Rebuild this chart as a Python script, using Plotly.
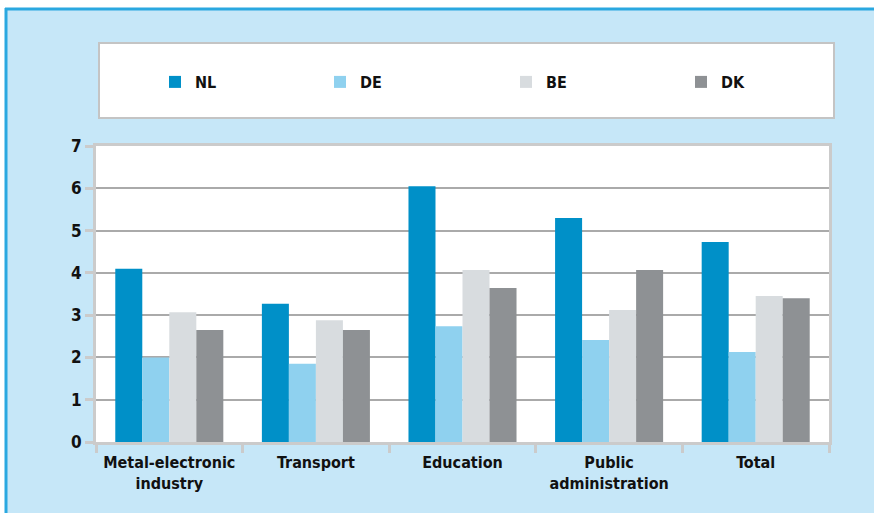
import plotly.graph_objects as go

categories = ["Metal-electronic<br>industry", "Transport", "Education",
              "Public<br>administration", "Total"]
countries = ["NL", "DE", "BE", "DK"]
nl_values = [4.1, 3.27, 6.05, 5.3, 4.73]
de_values = [2.0, 1.85, 2.74, 2.41, 2.13]
be_values = [3.07, 2.88, 4.07, 3.12, 3.45]
dk_values = [2.65, 2.65, 3.64, 4.07, 3.4]
colors = ["#0090c8", "#8fd1ef", "#d8dcdf", "#8e9194"]

FONT = "Liberation Sans Narrow, Arial Narrow, DejaVu Sans Condensed, sans-serif"
BG = "#c6e7f8"

W, H = 874, 513
L, R, T, B = 96, 45, 146, 71
PW, PH = W - L - R, H - T - B


def px_x(x):
    return (x - L) / PW


def px_y(y):
    return (H - B - y) / PH


fig = go.Figure()
series = [nl_values, de_values, be_values, dk_values]
legend_x = [155, 320, 506, 681]
for i, name in enumerate(countries):
    lg = "legend" if i == 0 else "legend%d" % (i + 1)
    fig.add_trace(go.Bar(x=categories, y=series[i], name=name,
                         marker_color=colors[i], marker_line_width=0,
                         legend=lg))

fig.update_layout(
    width=W, height=H,
    margin=dict(l=L, r=R, t=T, b=B),
    paper_bgcolor=BG,
    plot_bgcolor="white",
    font=dict(family=FONT, size=16, color="#111111", weight="bold"),
    bargap=0.263, bargroupgap=0,
    showlegend=True,
)

for i in range(4):
    key = "legend" if i == 0 else "legend%d" % (i + 1)
    fig.update_layout({key: dict(x=px_x(legend_x[i]), xanchor="left",
                                 y=px_y(82), yanchor="middle",
                                 bgcolor="rgba(0,0,0,0)", borderwidth=0,
                                 font=dict(family=FONT, size=16, color="#111111",
                                           weight="bold"))})

fig.update_xaxes(showline=True, linecolor="#cbcbcb", linewidth=3, mirror=True,
                 ticks="outside", tickson="boundaries", ticklen=8,
                 tickcolor="#cbcbcb", tickwidth=3, showgrid=False,
                 ticklabelstandoff=4)
fig.update_yaxes(range=[0, 7], dtick=1, showline=True, linecolor="#cbcbcb",
                 linewidth=3, mirror=True, ticks="outside", ticklen=8,
                 tickcolor="#cbcbcb", tickwidth=3, showgrid=True,
                 gridcolor="#aaaaaa", gridwidth=2, zeroline=False,
                 tickfont=dict(size=17))

# outer frame: white margin strips and blue edge lines
shapes = [
    dict(type="rect", xref="paper", yref="paper", x0=px_x(0), x1=px_x(W),
         y0=px_y(8), y1=px_y(0), fillcolor="white", line_width=0),
    dict(type="rect", xref="paper", yref="paper", x0=px_x(0), x1=px_x(5),
         y0=px_y(H), y1=px_y(0), fillcolor="white", line_width=0),
    dict(type="line", xref="paper", yref="paper", x0=px_x(5), x1=px_x(W),
         y0=px_y(9), y1=px_y(9), line=dict(color="#2aa8e0", width=3)),
    dict(type="line", xref="paper", yref="paper", x0=px_x(6), x1=px_x(6),
         y0=px_y(H), y1=px_y(8), line=dict(color="#2aa8e0", width=3)),
    # legend box
    dict(type="rect", xref="paper", yref="paper", x0=px_x(99), x1=px_x(834),
         y0=px_y(118), y1=px_y(43), fillcolor="white",
         line=dict(color="#c4c4c4", width=2), layer="below"),
]
fig.update_layout(shapes=shapes)

fig.write_html("out.html", config={"displayModeBar": False},
               post_script="document.body.style.margin='0';")
